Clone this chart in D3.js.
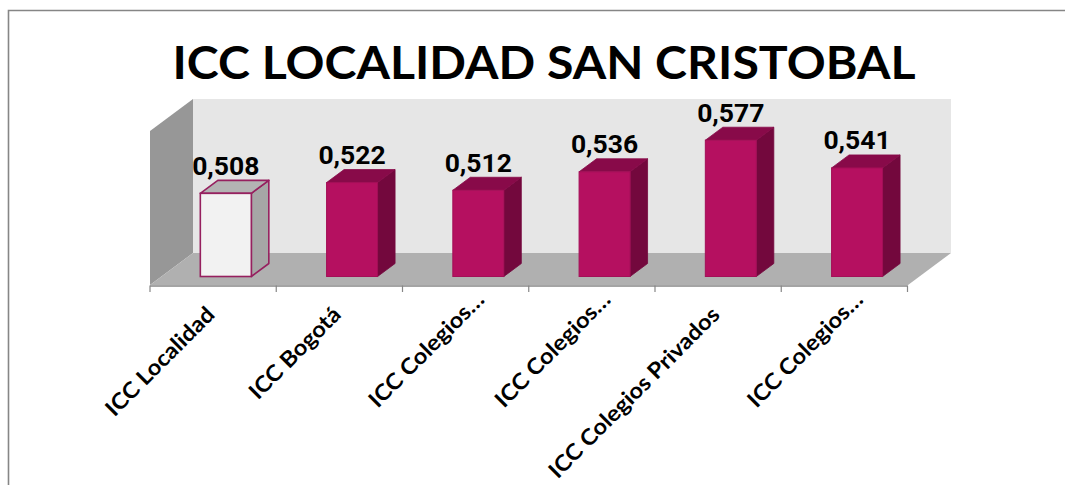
<!DOCTYPE html>
<html><head><meta charset="utf-8">
<script src="https://cdn.jsdelivr.net/npm/d3@7/dist/d3.min.js"></script>
<style>html,body{margin:0;padding:0;background:#fff;overflow:hidden}svg{display:block}</style>
</head><body><svg id="c" width="1065" height="485"></svg>
<script>
const categories = ["ICC Localidad","ICC Bogotá","ICC Colegios…","ICC Colegios…","ICC Colegios Privados","ICC Colegios…"];
const values = [0.508,0.522,0.512,0.536,0.577,0.541];
const valueLabels = ["0,508","0,522","0,512","0,536","0,577","0,541"];
const titleText = "ICC LOCALIDAD SAN CRISTOBAL";

const svg = d3.select("#c");
const x = d3.scaleBand().domain(d3.range(categories.length)).range([150,907.5]);
const y = d3.scaleLinear().domain([0.4,0.6]).range([276.5,122.5]);
const barDX = 17.5, barDY = 13, barW = 51, barShift = 12.7;
const axisY = 285.5;
const poly = pts => pts.map(p=>p.join(",")).join(" ");

// frame
svg.append("path").attr("d","M8.5,485V10.5H1065").attr("fill","none").attr("stroke","#868686").attr("stroke-width",1.6);

// walls
svg.append("polygon").attr("points",poly([[150,131],[193,99],[193,253],[150,285]])).attr("fill","#979797");
svg.append("polygon").attr("points",poly([[193,99],[951,99],[951,253],[193,253]])).attr("fill","#e6e6e6");
svg.append("polygon").attr("points",poly([[150,285],[193,253],[951,253],[908,285]])).attr("fill","#b0b0b0");

// axis
const axisG = svg.append("g").attr("transform",`translate(0,${axisY})`);
axisG.append("line").attr("x1",x.range()[0]).attr("x2",x.range()[1]).attr("y1",.5).attr("y2",.5).attr("stroke","#868686").attr("stroke-width",1.4);
const edges = d3.range(categories.length).map(i=>x(i)).concat([x.range()[1]]);
axisG.selectAll("line.t").data(edges).join("line").attr("class","t")
  .attr("x1",d=>d).attr("x2",d=>d).attr("y1",0).attr("y2",6.5)
  .attr("stroke","#868686").attr("stroke-width",1.2);

// bars
const g = svg.selectAll("g.bar").data(values).join("g").attr("class","bar");
const bx = i => x(i)+x.bandwidth()/2+barShift-barW/2;
const first = i => i===0;
g.append("polygon").attr("points",(d,i)=>{const l=bx(i)+barW,t=y(d),b=y(0.4);
  return poly([[l,t],[l+barDX,t-barDY],[l+barDX,b-barDY],[l,b]]);})
  .attr("fill",(d,i)=>first(i)?"#a6a6a6":"#73083d").attr("stroke",(d,i)=>first(i)?"#96205f":"#73083d").attr("stroke-width",(d,i)=>first(i)?1.6:.8).attr("stroke-linejoin","round");
g.append("polygon").attr("points",(d,i)=>{const l=bx(i),t=y(d);
  return poly([[l,t],[l+barW,t],[l+barW+barDX,t-barDY],[l+barDX,t-barDY]]);})
  .attr("fill",(d,i)=>first(i)?"#b3b3b3":"#880a49").attr("stroke",(d,i)=>first(i)?"#96205f":"#880a49").attr("stroke-width",(d,i)=>first(i)?1.6:.8).attr("stroke-linejoin","round");
g.append("rect").attr("x",(d,i)=>bx(i)).attr("y",d=>y(d)).attr("width",barW).attr("height",d=>y(0.4)-y(d))
  .attr("fill",(d,i)=>first(i)?"#f2f2f2":"#b51060").attr("stroke",(d,i)=>first(i)?"#96205f":"#a30f57").attr("stroke-width",(d,i)=>first(i)?1.6:1);

// value labels
svg.selectAll("text.v").data(values).join("text").attr("class","v")
  .attr("x",(d,i)=>bx(i)+barW/2).attr("y",d=>y(d)-18.5)
  .attr("text-anchor","middle").attr("font-family","Roboto").attr("font-weight",700)
  .attr("font-size",26.5).attr("fill","#000").text((d,i)=>valueLabels[i]);

// category labels (baseline end sits near the band centre; truncated labels reach further)
svg.selectAll("text.c").data(categories).join("text").attr("class","c")
  .attr("text-anchor","end")
  .attr("transform",(d,i)=>{
    const trunc = d.endsWith("…");
    const cx = x(i)+x.bandwidth()/2+(trunc?20:3), cy = trunc?301:316;
    return `translate(${cx},${cy}) rotate(-45) scale(1.08,1)`;})
  .attr("font-family","Lato").attr("font-weight",700).attr("font-size",22).attr("fill","#000")
  .text(d=>d);

// title
svg.append("text").attr("x",544).attr("y",78.5).attr("text-anchor","middle")
  .attr("font-family","Lato").attr("font-weight",700).attr("font-size",46).attr("fill","#000")
  .attr("textLength",743).attr("lengthAdjust","spacingAndGlyphs").text(titleText);
</script></body></html>
